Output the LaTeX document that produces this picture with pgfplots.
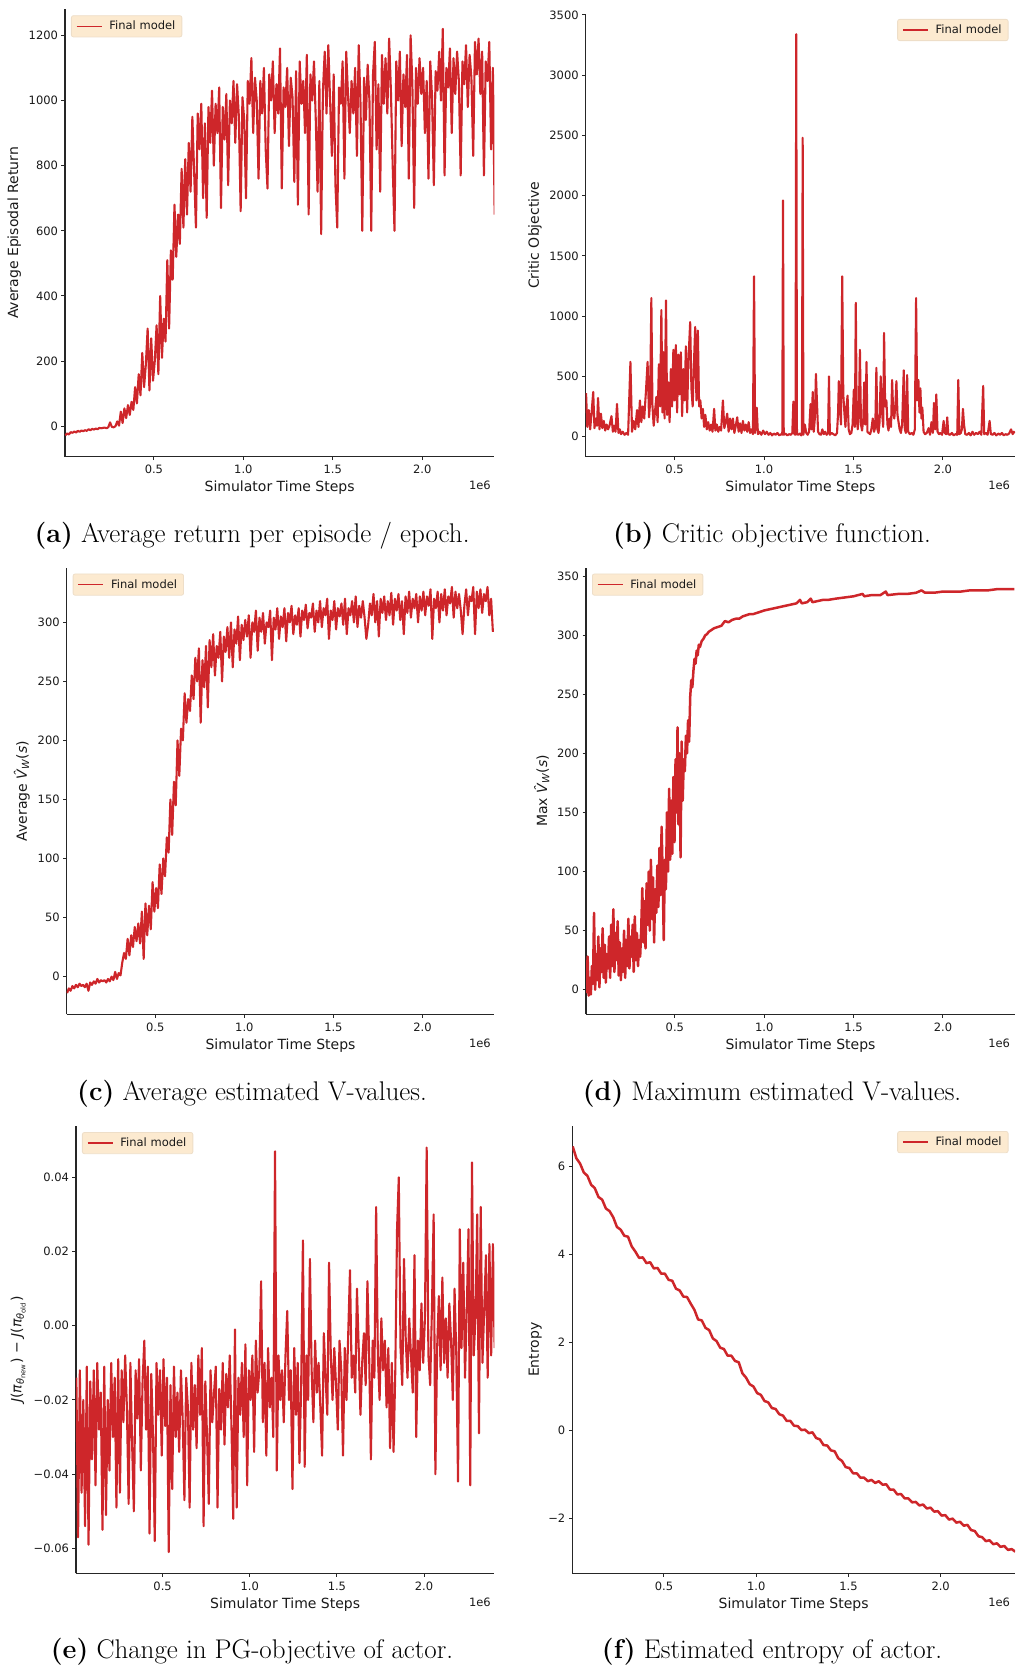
\documentclass[border=0pt]{standalone}
\usepackage{pgfplots}
\pgfplotsset{compat=1.18}
\usepackage{pgfplotstable}
\usepackage{fontspec}
\newfontfamily\dvs{DejaVu Sans}
\newcommand\tickfont{\dvs\fontsize{11.5}{13}\selectfont}
\newcommand\labelfont{\dvs\fontsize{14}{16}\selectfont}
\newcommand\capfont{\fontsize{27}{31}\selectfont}

\definecolor{linered}{RGB}{206,38,42}
\definecolor{legfill}{RGB}{252,234,208}
\definecolor{legdraw}{RGB}{238,222,200}

% Average episodal return, one value every 0.01e6 steps
\pgfplotstableread[row sep=\\]{
y\\
-28\\ -22\\ -25\\ -18\\ -20\\ -16\\ -19\\ -14\\ -17\\ -13\\
-15\\ -12\\ -14\\ -9\\ -12\\ -8\\ -10\\ -7\\ -9\\ -5\\
-6\\ -5\\ -4\\ -6\\ -3\\ 12\\ -2\\ -3\\ 0\\ 15\\
2\\ 45\\ 10\\ 55\\ 25\\ 65\\ 35\\ 75\\ 50\\ 120\\
70\\ 160\\ 95\\ 225\\ 120\\ 190\\ 300\\ 110\\ 270\\ 140\\
200\\ 310\\ 160\\ 400\\ 210\\ 330\\ 260\\ 510\\ 300\\ 540\\
450\\ 680\\ 520\\ 650\\ 560\\ 790\\ 610\\ 820\\ 650\\ 870\\
720\\ 950\\ 780\\ 610\\ 960\\ 850\\ 990\\ 700\\ 930\\ 640\\
980\\ 870\\ 1030\\ 800\\ 990\\ 900\\ 1040\\ 670\\ 980\\ 880\\
1020\\ 740\\ 1000\\ 930\\ 1060\\ 870\\ 1050\\ 950\\ 660\\ 1010\\
940\\ 700\\ 1060\\ 990\\ 1130\\ 900\\ 1070\\ 1000\\ 760\\ 1060\\
960\\ 1100\\ 850\\ 730\\ 1080\\ 1000\\ 1120\\ 900\\ 1050\\ 960\\
1160\\ 730\\ 1040\\ 980\\ 1100\\ 860\\ 1070\\ 1010\\ 750\\ 1090\\
680\\ 1120\\ 990\\ 1060\\ 900\\ 1140\\ 650\\ 1080\\ 1000\\ 1120\\
940\\ 720\\ 1060\\ 590\\ 1030\\ 1150\\ 960\\ 1170\\ 1000\\ 830\\
1080\\ 740\\ 610\\ 1040\\ 990\\ 1120\\ 760\\ 1150\\ 1020\\ 900\\
1060\\ 960\\ 1100\\ 830\\ 1170\\ 990\\ 600\\ 1070\\ 940\\ 1110\\
1000\\ 600\\ 1080\\ 1180\\ 850\\ 1050\\ 720\\ 1140\\ 990\\ 1130\\
960\\ 1190\\ 1030\\ 800\\ 600\\ 1120\\ 1000\\ 1150\\ 860\\ 1080\\
980\\ 1140\\ 760\\ 1200\\ 1050\\ 670\\ 1100\\ 990\\ 1130\\ 1020\\
1100\\ 900\\ 1060\\ 760\\ 1120\\ 1010\\ 740\\ 1090\\ 1030\\ 1150\\
1000\\ 1220\\ 770\\ 1100\\ 1040\\ 1160\\ 900\\ 1130\\ 1020\\ 1150\\
1060\\ 770\\ 1120\\ 1050\\ 1170\\ 980\\ 1140\\ 1070\\ 830\\ 1180\\
1080\\ 1190\\ 1020\\ 1150\\ 770\\ 1120\\ 1060\\ 1180\\ 850\\ 1100\\
650\\
}\avgreturn

% Average estimated V-values
\pgfplotstableread[row sep=\\]{
y\\
-14\\ -10\\ -12\\ -8\\ -10\\ -7\\ -9\\ -6\\ -8\\ -7\\
-9\\ -6\\ -12\\ -5\\ -7\\ -4\\ -6\\ -2\\ -5\\ -3\\
-4\\ -3\\ -5\\ -2\\ -4\\ 0\\ -3\\ 4\\ -2\\ 3\\
1\\ 12\\ 20\\ 15\\ 32\\ 18\\ 35\\ 25\\ 42\\ 30\\
45\\ 28\\ 55\\ 15\\ 62\\ 35\\ 60\\ 40\\ 80\\ 55\\
75\\ 58\\ 95\\ 70\\ 100\\ 85\\ 118\\ 105\\ 150\\ 120\\
165\\ 145\\ 200\\ 170\\ 210\\ 200\\ 240\\ 215\\ 235\\ 225\\
255\\ 235\\ 270\\ 250\\ 278\\ 215\\ 268\\ 245\\ 280\\ 228\\
285\\ 262\\ 290\\ 255\\ 280\\ 270\\ 292\\ 250\\ 288\\ 275\\
296\\ 270\\ 300\\ 262\\ 294\\ 282\\ 305\\ 268\\ 298\\ 285\\
302\\ 288\\ 306\\ 270\\ 300\\ 292\\ 310\\ 276\\ 304\\ 292\\
308\\ 282\\ 300\\ 296\\ 310\\ 268\\ 304\\ 294\\ 312\\ 286\\
305\\ 296\\ 312\\ 284\\ 308\\ 300\\ 314\\ 290\\ 306\\ 298\\
312\\ 288\\ 310\\ 302\\ 315\\ 295\\ 308\\ 304\\ 316\\ 292\\
310\\ 300\\ 318\\ 296\\ 312\\ 306\\ 320\\ 286\\ 310\\ 302\\
318\\ 294\\ 312\\ 305\\ 316\\ 298\\ 320\\ 290\\ 312\\ 306\\
318\\ 300\\ 322\\ 296\\ 314\\ 304\\ 318\\ 304\\ 286\\ 298\\
316\\ 306\\ 324\\ 300\\ 318\\ 288\\ 320\\ 308\\ 322\\ 302\\
318\\ 306\\ 325\\ 298\\ 320\\ 310\\ 324\\ 302\\ 318\\ 290\\
322\\ 308\\ 326\\ 304\\ 320\\ 312\\ 324\\ 300\\ 322\\ 310\\
326\\ 306\\ 322\\ 314\\ 328\\ 286\\ 320\\ 312\\ 326\\ 300\\
324\\ 310\\ 328\\ 306\\ 322\\ 316\\ 330\\ 304\\ 326\\ 312\\
324\\ 310\\ 290\\ 314\\ 328\\ 306\\ 322\\ 318\\ 330\\ 290\\
326\\ 312\\ 328\\ 308\\ 324\\ 318\\ 330\\ 306\\ 320\\ 292\\
}\avgvalue

% Change in the PG objective of the actor
\pgfplotstableread[row sep=\\]{
y\\
-0.014\\ -0.057\\ -0.012\\ -0.045\\ -0.020\\ -0.054\\ -0.011\\ -0.059\\ -0.015\\ -0.036\\
-0.012\\ -0.043\\ -0.010\\ -0.028\\ -0.018\\ -0.055\\ -0.011\\ -0.051\\ -0.020\\ -0.039\\
-0.010\\ -0.030\\ -0.014\\ -0.049\\ -0.009\\ -0.045\\ -0.012\\ -0.026\\ -0.008\\ -0.022\\
-0.048\\ -0.010\\ -0.032\\ -0.050\\ -0.012\\ -0.025\\ -0.009\\ -0.039\\ -0.015\\ -0.004\\
-0.028\\ -0.011\\ -0.056\\ -0.013\\ -0.030\\ -0.058\\ -0.010\\ -0.024\\ -0.012\\ -0.035\\
-0.009\\ -0.027\\ -0.014\\ -0.061\\ -0.016\\ -0.044\\ -0.011\\ -0.030\\ -0.018\\ -0.034\\
-0.012\\ -0.025\\ -0.047\\ -0.014\\ -0.022\\ -0.049\\ -0.010\\ -0.028\\ -0.016\\ -0.033\\
-0.008\\ -0.024\\ -0.006\\ -0.054\\ -0.015\\ -0.030\\ -0.048\\ -0.012\\ -0.026\\ -0.018\\
-0.011\\ -0.049\\ -0.017\\ -0.028\\ -0.010\\ -0.032\\ -0.013\\ -0.022\\ -0.008\\ -0.027\\
-0.052\\ -0.001\\ -0.049\\ -0.014\\ -0.024\\ -0.010\\ -0.030\\ -0.005\\ -0.043\\ -0.012\\
-0.020\\ -0.008\\ -0.034\\ -0.004\\ -0.018\\ -0.012\\ 0.012\\ -0.026\\ -0.010\\ -0.035\\
-0.006\\ -0.022\\ -0.014\\ -0.030\\ 0.047\\ -0.039\\ -0.008\\ -0.020\\ -0.012\\ -0.026\\
-0.008\\ 0.004\\ -0.020\\ -0.012\\ -0.044\\ -0.006\\ -0.024\\ -0.010\\ -0.037\\ -0.016\\
0.023\\ -0.038\\ -0.008\\ -0.020\\ 0.018\\ -0.012\\ -0.026\\ -0.004\\ -0.018\\ -0.010\\
-0.022\\ -0.035\\ -0.002\\ -0.014\\ -0.024\\ 0.017\\ -0.008\\ -0.020\\ -0.006\\ -0.016\\
-0.028\\ -0.004\\ -0.012\\ -0.035\\ -0.006\\ -0.020\\ -0.002\\ 0.015\\ -0.014\\ -0.008\\
-0.018\\ 0.010\\ -0.006\\ -0.024\\ -0.010\\ -0.002\\ -0.016\\ 0.012\\ -0.008\\ -0.036\\
-0.004\\ -0.014\\ 0.032\\ -0.008\\ -0.020\\ 0.002\\ -0.012\\ -0.004\\ -0.022\\ -0.006\\
-0.033\\ -0.010\\ -0.034\\ -0.012\\ 0.026\\ 0.040\\ -0.006\\ -0.016\\ 0.018\\ -0.004\\
-0.014\\ 0.002\\ -0.008\\ -0.018\\ 0.019\\ -0.030\\ -0.004\\ -0.012\\ 0.006\\ -0.010\\
0.002\\ 0.048\\ -0.008\\ -0.016\\ 0.004\\ 0.030\\ -0.040\\ -0.006\\ 0.008\\ -0.012\\
0.013\\ -0.010\\ 0.002\\ -0.014\\ 0.006\\ -0.004\\ -0.020\\ 0.010\\ -0.008\\ -0.042\\
0.026\\ -0.006\\ 0.017\\ -0.014\\ 0.004\\ 0.026\\ -0.043\\ 0.044\\ -0.008\\ 0.002\\
0.030\\ -0.029\\ 0.032\\ -0.010\\ 0.004\\ 0.019\\ -0.014\\ 0.022\\ -0.008\\ 0.022\\
-0.006\\
}\pgchange

% Estimated entropy of the actor, one value every 0.02e6 steps
\pgfplotstableread[row sep=\\]{
y\\
6.45\\ 6.18\\ 6.06\\ 5.86\\ 5.78\\ 5.58\\ 5.50\\ 5.30\\ 5.24\\ 5.04\\
4.98\\ 4.84\\ 4.62\\ 4.56\\ 4.42\\ 4.40\\ 4.18\\ 4.06\\ 3.92\\ 3.93\\
3.80\\ 3.82\\ 3.68\\ 3.69\\ 3.56\\ 3.56\\ 3.42\\ 3.40\\ 3.22\\ 3.18\\
3.04\\ 3.03\\ 2.88\\ 2.74\\ 2.52\\ 2.50\\ 2.33\\ 2.28\\ 2.09\\ 2.03\\
1.88\\ 1.85\\ 1.70\\ 1.70\\ 1.58\\ 1.55\\ 1.30\\ 1.20\\ 1.05\\ 1.00\\
0.85\\ 0.81\\ 0.67\\ 0.64\\ 0.51\\ 0.49\\ 0.37\\ 0.34\\ 0.22\\ 0.22\\
0.11\\ 0.10\\ 0.01\\ 0.02\\ -0.06\\ -0.04\\ -0.17\\ -0.20\\ -0.33\\ -0.34\\
-0.45\\ -0.47\\ -0.63\\ -0.69\\ -0.83\\ -0.85\\ -0.97\\ -0.97\\ -1.07\\ -1.07\\
-1.15\\ -1.12\\ -1.19\\ -1.15\\ -1.23\\ -1.22\\ -1.34\\ -1.34\\ -1.45\\ -1.44\\
-1.54\\ -1.54\\ -1.63\\ -1.62\\ -1.70\\ -1.68\\ -1.77\\ -1.75\\ -1.84\\ -1.83\\
-1.93\\ -1.92\\ -2.02\\ -2.00\\ -2.09\\ -2.07\\ -2.16\\ -2.14\\ -2.26\\ -2.28\\
-2.40\\ -2.42\\ -2.51\\ -2.49\\ -2.58\\ -2.56\\ -2.64\\ -2.62\\ -2.71\\ -2.69\\
-2.75\\
}\entropy

\pgfplotsset{
  panel/.style={
    scale only axis,
    axis x line*=bottom, axis y line*=left,
    axis line style={line width=1.1pt, black!85},
    tick align=outside,
    major tick length=3.5pt,
    tick style={line width=1pt, black!85},
    xmin=0.003, xmax=2.403,
    xtick={0.5,1,1.5,2}, xticklabels={0.5,1.0,1.5,2.0},
    scaled ticks=false,
    ticklabel style={font=\tickfont, text=black!90},
    xticklabel style={yshift=-1.5pt},
    xlabel={Simulator Time Steps},
    every axis x label/.style={at={(axis description cs:0.5,0)}, anchor=center,
      yshift=-31pt, font=\labelfont, text=black!90},
    legend cell align=left,
    legend image code/.code={\draw[#1, line width=1.5pt] (0pt,0pt) -- (25pt,0pt);},
    legend style={fill=legfill, draw=legdraw, line width=0.8pt, rounded corners=2pt,
      font=\tickfont, text=black!90, inner xsep=4.5pt, inner ysep=3.5pt,
      /tikz/every odd column/.append style={column sep=5pt}},
  },
  legNW/.style={legend style={at={(axis description cs:0,1)}, anchor=north west, xshift=6pt, yshift=-6pt}},
  legNE/.style={legend style={at={(axis description cs:1,1)}, anchor=north east, xshift=-6.5pt, yshift=-5pt}},
  ylab/.style={every axis y label/.style={at={(axis description cs:#1,0.5)}, rotate=90,
      anchor=center, font=\labelfont, text=black!90}},
  series/.style={color=linered, line width=2.1pt, line join=round, mark=none},
  smoothseries/.style={color=linered, line width=2.5pt, line join=round, mark=none},
}

\begin{document}
\begin{tikzpicture}[x=1pt,y=1pt]
\useasboundingbox (0,0) rectangle (1019,1671);

% (a) average return
\begin{axis}[panel, legNW, ylab=-0.118,
  at={(65pt,1214.4pt)}, width=429.3pt, height=447.3pt,
  ymin=-93, ymax=1280,
  ytick={0,200,400,600,800,1000,1200},
  yticklabels={0,200,400,600,800,1000,1200},
  ylabel={Average Episodal Return}]
\addplot[series] table[x expr={0.005+0.01*\coordindex}, y=y] {\avgreturn};
\addlegendentry{Final model}
\end{axis}

% (b) critic objective
\begin{axis}[panel, legNE, ylab=-0.118,
  at={(585.7pt,1214.4pt)}, width=429.3pt, height=442.6pt,
  ymin=-166, ymax=3507,
  ytick={0,500,1000,1500,2000,2500,3000,3500},
  yticklabels={0,500,1000,1500,2000,2500,3000,3500},
  ylabel={Critic Objective}]
\addplot[series] coordinates {
(0.005,360)(0.012,80)(0.02,220)(0.028,60)(0.036,200)(0.045,370)(0.052,70)(0.06,150)(0.066,90)(0.072,320)
(0.08,60)(0.088,190)(0.096,70)(0.104,130)(0.112,50)(0.12,100)(0.128,60)(0.136,90)(0.147,170)(0.155,40)
(0.163,90)(0.17,40)(0.178,270)(0.186,30)(0.194,60)(0.2,20)(0.21,40)(0.22,15)(0.23,30)(0.24,15)
(0.253,620)(0.262,40)(0.27,130)(0.28,60)(0.29,220)(0.298,80)(0.306,300)(0.314,120)(0.322,250)(0.33,150)
(0.34,380)(0.349,620)(0.357,160)(0.363,280)(0.37,1150)(0.376,260)(0.383,90)(0.39,200)(0.398,330)(0.405,120)
(0.412,600)(0.419,250)(0.426,1050)(0.432,200)(0.438,700)(0.444,150)(0.452,1130)(0.458,180)(0.465,450)(0.472,120)
(0.479,560)(0.486,250)(0.493,720)(0.5,300)(0.507,760)(0.514,200)(0.521,680)(0.528,350)(0.535,700)(0.542,170)
(0.549,560)(0.556,300)(0.563,750)(0.57,200)(0.577,620)(0.587,950)(0.594,400)(0.601,250)(0.608,600)(0.615,910)
(0.622,300)(0.63,880)(0.637,250)(0.644,300)(0.651,150)(0.658,230)(0.665,80)(0.672,180)(0.68,60)(0.688,120)
(0.696,50)(0.704,100)(0.712,40)(0.721,230)(0.728,50)(0.736,100)(0.744,40)(0.752,80)(0.76,50)(0.77,300)
(0.778,70)(0.786,120)(0.794,190)(0.802,40)(0.81,150)(0.818,60)(0.826,150)(0.834,30)(0.842,90)(0.85,160)
(0.858,40)(0.866,110)(0.874,30)(0.882,130)(0.89,50)(0.898,100)(0.906,40)(0.914,120)(0.922,30)(0.93,60)
(0.938,20)(0.944,1330)(0.95,30)(0.959,240)(0.966,20)(0.975,40)(0.985,15)(0.995,50)(1.005,20)(1.015,40)
(1.025,15)(1.035,30)(1.045,10)(1.055,25)(1.065,15)(1.075,30)(1.085,10)(1.095,20)(1.102,15)(1.106,1960)
(1.11,15)(1.12,25)(1.13,10)(1.14,20)(1.15,15)(1.158,30)(1.164,290)(1.17,20)(1.176,15)(1.18,3340)
(1.184,20)(1.192,15)(1.2,25)(1.208,10)(1.212,20)(1.216,2480)(1.22,15)(1.228,100)(1.236,30)(1.244,15)
(1.252,40)(1.26,270)(1.266,60)(1.272,370)(1.278,40)(1.284,150)(1.29,520)(1.296,280)(1.302,40)(1.31,20)
(1.318,15)(1.326,60)(1.334,20)(1.342,40)(1.35,15)(1.358,30)(1.363,500)(1.368,15)(1.378,30)(1.388,20)
(1.398,10)(1.408,30)(1.414,200)(1.418,460)(1.424,250)(1.43,100)(1.437,1330)(1.443,350)(1.449,200)(1.455,80)
(1.461,250)(1.467,340)(1.473,60)(1.48,20)(1.488,30)(1.495,100)(1.502,390)(1.508,80)(1.513,1110)(1.518,150)
(1.524,60)(1.53,200)(1.536,720)(1.542,100)(1.548,50)(1.555,150)(1.56,450)(1.566,100)(1.573,620)(1.578,40)
(1.585,30)(1.593,20)(1.6,60)(1.608,150)(1.615,40)(1.622,80)(1.628,570)(1.634,60)(1.64,30)(1.646,120)
(1.652,500)(1.66,200)(1.666,80)(1.671,860)(1.677,250)(1.684,300)(1.69,100)(1.696,50)(1.702,150)(1.71,80)
(1.716,470)(1.722,200)(1.728,150)(1.734,250)(1.74,460)(1.746,180)(1.752,120)(1.758,60)(1.765,30)(1.772,100)
(1.781,550)(1.787,60)(1.793,30)(1.8,510)(1.806,40)(1.815,20)(1.825,30)(1.835,15)(1.843,60)(1.85,1150)
(1.856,300)(1.863,470)(1.869,200)(1.874,400)(1.88,150)(1.885,240)(1.892,40)(1.9,20)(1.91,30)(1.92,70)
(1.928,15)(1.936,120)(1.944,30)(1.95,280)(1.957,60)(1.963,350)(1.97,40)(1.978,20)(1.986,30)(1.995,15)
(2.004,130)(2.01,30)(2.018,20)(2.024,160)(2.03,20)(2.04,15)(2.05,30)(2.06,10)(2.07,20)(2.08,15)
(2.086,470)(2.092,20)(2.1,30)(2.106,60)(2.112,230)(2.118,100)(2.125,20)(2.135,15)(2.145,30)(2.155,10)
(2.165,40)(2.175,15)(2.185,30)(2.195,20)(2.205,40)(2.215,15)(2.225,420)(2.231,20)(2.24,30)(2.25,15)
(2.261,130)(2.268,20)(2.278,15)(2.288,30)(2.298,10)(2.31,25)(2.32,15)(2.33,30)(2.34,10)(2.35,20)
(2.36,15)(2.37,25)(2.381,60)(2.39,20)(2.396,40)(2.403,30)
};
\addlegendentry{Final model}
\end{axis}

% (c) average estimated V-values
\begin{axis}[panel, legNW, ylab=-0.105,
  at={(66.7pt,656.5pt)}, width=427.6pt, height=446.9pt,
  ymin=-32.1, ymax=346.4,
  ytick={0,50,100,150,200,250,300},
  yticklabels={0,50,100,150,200,250,300},
  ylabel={Average \textit{V̂}\textsubscript{\textit{W}}(\textit{s})}]
\addplot[series] table[x expr={0.005+0.01*\coordindex}, y=y] {\avgvalue};
\addlegendentry{Final model}
\end{axis}

% (d) maximum estimated V-values
\begin{axis}[panel, legNW, ylab=-0.103,
  at={(586pt,656.5pt)}, width=429pt, height=446.9pt,
  ymin=-21, ymax=357.3,
  ytick={0,50,100,150,200,250,300,350},
  yticklabels={0,50,100,150,200,250,300,350},
  ylabel={Max \textit{V̂}\textsubscript{\textit{W}}(\textit{s})}]
\addplot[smoothseries] coordinates {
(0.005,-3)(0.012,28)(0.018,-5)(0.024,10)(0.03,-4)(0.036,20)(0.042,5)(0.048,65)(0.054,0)(0.06,30)
(0.066,8)(0.072,45)(0.078,2)(0.084,35)(0.09,15)(0.096,52)(0.102,10)(0.108,38)(0.114,6)(0.12,30)
(0.126,18)(0.132,45)(0.138,10)(0.144,55)(0.15,20)(0.156,68)(0.162,15)(0.168,48)(0.174,25)(0.18,58)
(0.186,12)(0.192,40)(0.198,8)(0.204,35)(0.21,15)(0.216,50)(0.222,10)(0.228,42)(0.234,20)(0.24,60)
(0.246,18)(0.252,45)(0.258,28)(0.264,55)(0.27,15)(0.276,62)(0.282,25)(0.288,48)(0.294,20)(0.3,42)
(0.306,28)(0.312,52)(0.318,86)(0.324,40)(0.33,75)(0.336,35)(0.342,90)(0.348,55)(0.354,100)(0.36,50)
(0.366,110)(0.372,60)(0.378,95)(0.384,40)(0.39,85)(0.396,65)(0.402,105)(0.408,70)(0.414,120)(0.42,80)
(0.426,138)(0.432,95)(0.438,42)(0.444,110)(0.45,85)(0.456,150)(0.462,100)(0.468,170)(0.474,110)(0.48,160)
(0.486,115)(0.492,180)(0.498,125)(0.504,195)(0.51,150)(0.515,222)(0.52,140)(0.526,200)(0.532,112)(0.538,210)
(0.544,160)(0.55,195)(0.556,185)(0.562,215)(0.568,200)(0.574,228)(0.58,210)(0.586,248)(0.592,262)(0.598,256)
(0.604,270)(0.61,280)(0.616,276)(0.622,287)(0.628,283)(0.634,292)(0.64,290)(0.65,295)(0.66,297)(0.67,300)
(0.68,301)(0.69,303)(0.7,304)(0.72,306)(0.74,307)(0.76,308)(0.78,312)(0.8,311)(0.82,313)(0.84,314)
(0.86,314)(0.88,316)(0.9,317)(0.92,318)(0.94,318)(0.96,319)(0.98,320)(1.0,321)(1.03,322)(1.06,323)
(1.09,324)(1.12,325)(1.15,326)(1.18,327)(1.2,330)(1.21,327)(1.24,328)(1.26,331)(1.27,328)(1.3,329)
(1.33,330)(1.36,330)(1.4,331)(1.45,332)(1.5,333)(1.55,335)(1.56,333)(1.6,334)(1.65,334)(1.68,337)
(1.69,334)(1.75,335)(1.8,335)(1.85,336)(1.88,338)(1.9,336)(1.95,336)(2.0,337)(2.05,337)(2.1,337)
(2.15,338)(2.2,338)(2.25,338)(2.3,339)(2.35,339)(2.4,339)
};
\addlegendentry{Final model}
\end{axis}

% (e) change in PG objective
\begin{axis}[panel, legNW, ylab=-0.138,
  at={(76pt,97.7pt)}, width=418.3pt, height=447.2pt,
  ymin=-0.0667, ymax=0.0538,
  ytick={-0.06,-0.04,-0.02,0,0.02,0.04},
  yticklabels={−0.06,−0.04,−0.02,0.00,0.02,0.04},
  ylabel={\textit{J}(\textit{π}\textsubscript{\textit{θ}\textsubscript{new}}) − \textit{J}(\textit{π}\textsubscript{\textit{θ}\textsubscript{old}})}]
\addplot[series] table[x expr={0.005+0.01*\coordindex}, y=y] {\pgchange};
\addlegendentry{Final model}
\end{axis}

% (f) entropy
\begin{axis}[panel, legNE, ylab=-0.084,
  at={(572.3pt,97.7pt)}, width=442.7pt, height=447.2pt,
  ymin=-3.24, ymax=6.91,
  ytick={-2,0,2,4,6},
  yticklabels={−2,0,2,4,6},
  ylabel={Entropy}]
\addplot[smoothseries] table[x expr={0.005+0.02*\coordindex}, y=y] {\entropy};
\addlegendentry{Final model}
\end{axis}

% scale factors of the x axes
\begin{scope}[font=\tickfont, text=black!90]
\node[anchor=east] at (494.3,1185.5) {1e6};
\node[anchor=east] at (1013.5,1185.5) {1e6};
\node[anchor=east] at (494.3,627.2) {1e6};
\node[anchor=east] at (1013.5,627.2) {1e6};
\node[anchor=east] at (494.3,69) {1e6};
\node[anchor=east] at (1013.5,69) {1e6};
\end{scope}

% sub-captions
\begin{scope}[font=\capfont]
\node at (252,1135) {\textbf{(a)}\ Average return per episode / epoch.};
\node at (772,1135) {\textbf{(b)}\ Critic objective function.};
\node at (252,577.4) {\textbf{(c)}\ Average estimated V-values.};
\node at (772,577.4) {\textbf{(d)}\ Maximum estimated V-values.};
\node at (252,18.8) {\textbf{(e)}\ Change in PG-objective of actor.};
\node at (772,18.8) {\textbf{(f)}\ Estimated entropy of actor.};
\end{scope}
\end{tikzpicture}
\end{document}
